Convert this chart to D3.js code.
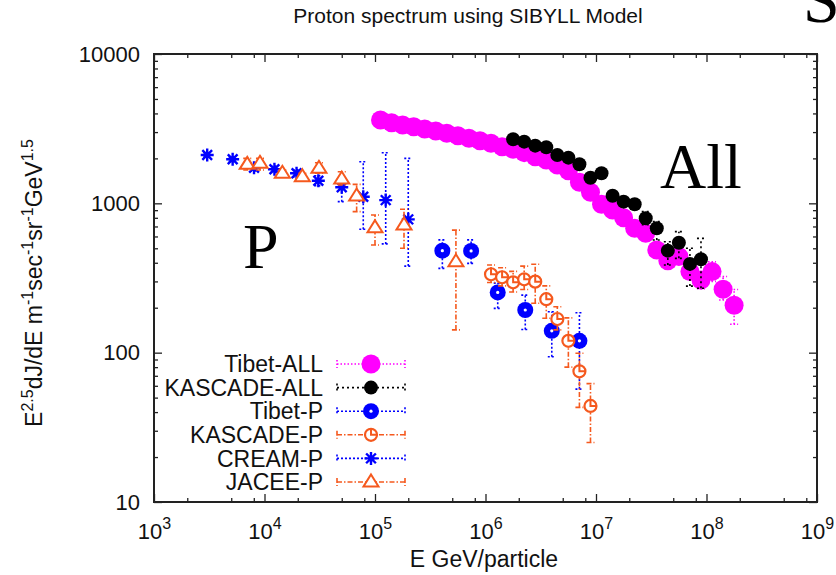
<!DOCTYPE html>
<html>
<head>
<meta charset="utf-8">
<script src="https://cdn.jsdelivr.net/npm/d3@7"></script>
<style>
  body { margin: 0; background: #fff; }
  svg { display: block; }
</style>
</head>
<body>
<div id="chart"></div>
<script>
// values (E in GeV, flux in E^2.5 dJ/dE units)
const tibetAllE = [1.122e5, 1.413e5, 1.778e5, 2.239e5, 2.818e5, 3.548e5, 4.467e5, 5.623e5, 7.079e5, 8.913e5,
    1.122e6, 1.413e6, 1.778e6, 2.239e6, 2.818e6, 3.548e6, 4.467e6, 5.623e6, 7.079e6, 8.913e6,
    1.122e7, 1.413e7, 1.778e7, 2.239e7, 2.818e7, 3.548e7, 4.467e7, 5.623e7, 7.079e7, 8.913e7,
    1.122e8, 1.413e8, 1.778e8]
const tibetAllF = [3614, 3467, 3350, 3261, 3147, 3050, 2943, 2839, 2728, 2628,
    2525, 2396, 2301, 2185, 2053, 1951, 1807, 1655, 1384, 1186,
    985, 902, 801, 680, 630, 487, 413, 440, 349, 307,
    349, 266, 208]
const tibetAllLo = [3500, 3360, 3250, 3160, 3050, 2960, 2850, 2750, 2650, 2550,
    2450, 2320, 2230, 2120, 1990, 1890, 1750, 1600, 1340, 1150,
    950, 870, 770, 650, 600, 450, 380, 400, 315, 268,
    300, 225, 155]
const tibetAllHi = [3730, 3580, 3450, 3360, 3240, 3140, 3030, 2920, 2810, 2710,
    2600, 2470, 2370, 2250, 2120, 2010, 1860, 1710, 1430, 1220,
    1020, 935, 830, 710, 660, 525, 445, 480, 385, 345,
    406, 324, 265]

const kascadeAllE = [1.778e6, 2.239e6, 2.818e6, 3.548e6, 4.467e6, 5.623e6, 7.079e6, 8.913e6, 1.122e7,
    1.413e7, 1.778e7, 2.239e7, 2.818e7, 3.548e7, 4.467e7, 5.623e7, 7.079e7, 8.913e7]
const kascadeAllF = [2685, 2588, 2433, 2373, 2107, 2022, 1825, 1485, 1589,
    1125, 1026, 985, 795, 681, 482, 545, 393, 422]
const kascadeAllLo = [2600, 2500, 2350, 2290, 2030, 1950, 1750, 1420, 1520,
    1050, 960, 915, 720, 568, 386, 428, 279, 270]
const kascadeAllHi = [2770, 2680, 2520, 2460, 2190, 2100, 1900, 1550, 1660,
    1200, 1100, 1060, 880, 754, 553, 646, 500, 583]

const tibetPE = [4.07e5, 7.41e5, 1.29e6, 2.29e6, 3.98e6, 7.08e6]
const tibetPF = [482, 480, 253, 193, 140, 120]
const tibetPLo = [367, 396, 198, 143, 94, 57]
const tibetPHi = [569, 569, 292, 243, 188, 185]

const kascadePE = [1.122e6, 1.413e6, 1.778e6, 2.239e6, 2.818e6, 3.548e6, 4.467e6, 5.623e6, 7.079e6, 8.913e6]
const kascadePF = [335, 320, 296, 310, 299, 228, 168, 120, 75, 44]
const kascadePLo = [295, 280, 255, 265, 214, 170, 142, 80, 43, 25]
const kascadePHi = [386, 370, 350, 380, 391, 280, 203, 171, 99, 62]

const creamPE = [3.03e3, 5.15e3, 8.04e3, 1.23e4, 1.95e4, 3.07e4, 5.0e4, 7.83e4, 1.25e5, 2.0e5]
const creamPF = [2109, 1974, 1733, 1691, 1589, 1418, 1281, 1107, 1051, 781]
const creamPLo = [2040, 1910, 1650, 1610, 1500, 1310, 1026, 670, 535, 380]
const creamPHi = [2180, 2040, 1820, 1780, 1680, 1530, 1432, 1900, 2183, 2000]

const jaceePE = [6.98e3, 9.1e3, 1.45e4, 2.2e4, 3.11e4, 5.0e4, 6.82e4, 1.0e5, 1.83e5, 5.4e5]
const jaceePF = [1824, 1853, 1589, 1508, 1716, 1455, 1119, 687, 716, 406]
const jaceePLo = [1671, 1671, 1510, 1430, 1589, 1327, 880, 526, 500, 142]
const jaceePHi = [2000, 2000, 1670, 1590, 1871, 1629, 1340, 836, 912, 662]

const xMajor = [1e3, 1e4, 1e5, 1e6, 1e7, 1e8, 1e9]
const yMajor = [10, 100, 1000, 10000]
const yTickLabels = ['10', '100', '1000', '10000']

const series = [
    { name: 'Tibet-ALL', E: tibetAllE, F: tibetAllF, lo: tibetAllLo, hi: tibetAllHi,
      color: '#ff00ff', dash: '1.5,2', marker: 'bigdot' },
    { name: 'KASCADE-ALL', E: kascadeAllE, F: kascadeAllF, lo: kascadeAllLo, hi: kascadeAllHi,
      color: '#000000', dash: '2,3', marker: 'dot' },
    { name: 'Tibet-P', E: tibetPE, F: tibetPF, lo: tibetPLo, hi: tibetPHi,
      color: '#0000ff', dash: '2,2', marker: 'ring' },
    { name: 'KASCADE-P', E: kascadePE, F: kascadePF, lo: kascadePLo, hi: kascadePHi,
      color: '#f5591e', dash: '5,2,1.5,2', marker: 'opencircle' },
    { name: 'CREAM-P', E: creamPE, F: creamPF, lo: creamPLo, hi: creamPHi,
      color: '#0000ff', dash: '2,2', marker: 'star' },
    { name: 'JACEE-P', E: jaceePE, F: jaceePF, lo: jaceePLo, hi: jaceePHi,
      color: '#f5591e', dash: '5,2,1.5,2', marker: 'triangle' }
]

const W = 836, H = 575
const pLeft = 154, pRight = 817, pTop = 54, pBottom = 502
const font = 'Liberation Sans, Arial, Helvetica, sans-serif'

const svg = d3.select('#chart').append('svg')
    .attr('width', W).attr('height', H)
    .attr('font-family', font)

const x = d3.scaleLog().domain([1e3, 1e9]).range([pLeft, pRight])
const y = d3.scaleLog().domain([10, 1e4]).range([pBottom, pTop])

// minor ticks
const xMinor = [], yMinor = []
xMajor.slice(0, -1).forEach(d => [2, 5, 8].forEach(m => xMinor.push(d * m)))
yMajor.slice(0, -1).forEach(d => [2, 3, 4, 5, 6, 7, 8, 9].forEach(m => yMinor.push(d * m)))

function tickAxis(axisFn, scale, pos, vals, len) {
    const g = svg.append('g').attr('transform', pos)
        .call(axisFn(scale).tickValues(vals).tickSizeInner(-len).tickSizeOuter(0).tickFormat(''))
    g.select('.domain').remove()
    g.selectAll('.tick line').attr('stroke', '#222').attr('stroke-width', 1.3)
    return g
}
tickAxis(d3.axisBottom, x, `translate(0,${pBottom})`, xMinor, 4)
tickAxis(d3.axisTop, x, `translate(0,${pTop})`, xMinor, 4)
tickAxis(d3.axisTop, x, `translate(0,${pTop})`, xMajor, 8)
tickAxis(d3.axisLeft, y, `translate(${pLeft},0)`, yMinor, 4)
tickAxis(d3.axisRight, y, `translate(${pRight},0)`, yMinor, 4)
tickAxis(d3.axisRight, y, `translate(${pRight},0)`, yMajor, 8)

// bottom axis with 10^n labels
const gx = svg.append('g').attr('transform', `translate(0,${pBottom})`)
    .call(d3.axisBottom(x).tickValues(xMajor).tickSizeInner(-8).tickSizeOuter(0).tickPadding(21))
gx.select('.domain').remove()
gx.selectAll('.tick line').attr('stroke', '#222').attr('stroke-width', 1.3)
gx.selectAll('.tick text').each(function (d) {
    const t = d3.select(this)
    t.text(null).attr('font-size', 22).attr('fill', '#111').attr('font-family', font)
    t.append('tspan').text('10')
    t.append('tspan').attr('dy', -10).attr('font-size', 16).text(Math.round(Math.log10(d)))
})

// left axis
const gy = svg.append('g').attr('transform', `translate(${pLeft},0)`)
    .call(d3.axisLeft(y).tickValues(yMajor).tickSizeInner(-8).tickSizeOuter(0).tickPadding(14)
        .tickFormat((d, i) => yTickLabels[i]))
gy.select('.domain').remove()
gy.selectAll('.tick line').attr('stroke', '#222').attr('stroke-width', 1.3)
gy.selectAll('.tick text').attr('font-size', 22).attr('fill', '#111').attr('font-family', font)

// frame
svg.append('rect')
    .attr('x', pLeft).attr('y', pTop)
    .attr('width', pRight - pLeft).attr('height', pBottom - pTop)
    .attr('fill', 'none').attr('stroke', '#222').attr('stroke-width', 2)

// markers
function drawMarker(g, type, color, cx, cy) {
    if (type === 'bigdot') {
        g.append('circle').attr('cx', cx).attr('cy', cy).attr('r', 9.5).attr('fill', color)
    } else if (type === 'dot') {
        g.append('circle').attr('cx', cx).attr('cy', cy).attr('r', 7).attr('fill', color)
    } else if (type === 'ring') {
        g.append('circle').attr('cx', cx).attr('cy', cy).attr('r', 8).attr('fill', color)
        g.append('circle').attr('cx', cx).attr('cy', cy).attr('r', 1.6).attr('fill', '#fff')
    } else if (type === 'opencircle') {
        g.append('circle').attr('cx', cx).attr('cy', cy).attr('r', 6)
            .attr('fill', '#fff').attr('stroke', color).attr('stroke-width', 2.2)
        g.append('path').attr('d', `M${cx},${cy - 6}L${cx},${cy}L${cx + 6},${cy}`)
            .attr('fill', 'none').attr('stroke', color).attr('stroke-width', 2)
    } else if (type === 'star') {
        const s = 6.5
        g.append('path')
            .attr('d', `M${cx - s},${cy}L${cx + s},${cy}M${cx},${cy - s}L${cx},${cy + s}` +
                `M${cx - s * 0.75},${cy - s * 0.75}L${cx + s * 0.75},${cy + s * 0.75}` +
                `M${cx - s * 0.75},${cy + s * 0.75}L${cx + s * 0.75},${cy - s * 0.75}`)
            .attr('stroke', color).attr('stroke-width', 2.4)
    } else if (type === 'triangle') {
        const s = 7.5
        g.append('path')
            .attr('d', `M${cx},${cy - s}L${cx + s},${cy + s * 0.6}L${cx - s},${cy + s * 0.6}Z`)
            .attr('fill', '#fff').attr('stroke', color).attr('stroke-width', 2)
    }
}

// data: error bars then points
series.forEach(s => {
    const g = svg.append('g').attr('class', 'series')
    s.E.forEach((e, i) => {
        const cx = x(e), y1 = y(s.lo[i]), y2 = y(s.hi[i])
        g.append('path')
            .attr('d', `M${cx},${y1}L${cx},${y2}M${cx - 4},${y1}L${cx + 4},${y1}M${cx - 4},${y2}L${cx + 4},${y2}`)
            .attr('fill', 'none').attr('stroke', s.color).attr('stroke-width', 1.6)
            .attr('stroke-dasharray', s.dash)
    })
    s.E.forEach((e, i) => drawMarker(g, s.marker, s.color, x(e), y(s.F[i])))
})

// legend
const legend = svg.append('g')
series.forEach((s, i) => {
    const ly = 364 + i * 23.6
    legend.append('text').attr('x', 323).attr('y', ly).attr('dy', '0.36em')
        .attr('text-anchor', 'end').attr('font-size', 23).attr('fill', '#111').text(s.name)
    legend.append('path')
        .attr('d', `M337,${ly}L405,${ly}M337,${ly - 4}L337,${ly + 4}M405,${ly - 4}L405,${ly + 4}`)
        .attr('stroke', s.color).attr('stroke-width', 1.6).attr('stroke-dasharray', s.dash)
        .attr('fill', 'none')
    drawMarker(legend, s.marker, s.color, 371, ly)
})

// title and axis labels
svg.append('text').attr('x', 468).attr('y', 23).attr('text-anchor', 'middle')
    .attr('font-size', 21).attr('fill', '#111').text('Proton spectrum using SIBYLL Model')

svg.append('text').attr('x', 484).attr('y', 567).attr('text-anchor', 'middle')
    .attr('font-size', 23).attr('fill', '#111').text('E GeV/particle')

const yl = svg.append('text').attr('transform', 'translate(42,283) rotate(-90)')
    .attr('text-anchor', 'middle').attr('font-size', 23).attr('fill', '#111')
const ylParts = [['E', 0], ['2.5', 1], ['dJ/dE m', 0], ['-1', 1], ['sec', 0], ['-1', 1], ['sr', 0], ['-1', 1], ['GeV', 0], ['1.5', 1]]
let sup = false
ylParts.forEach(([t, s]) => {
    const ts = yl.append('tspan').text(t)
    if (s && !sup) { ts.attr('dy', -9).attr('font-size', 16); sup = true }
    else if (s) { ts.attr('font-size', 16) }
    else if (!s && sup) { ts.attr('dy', 9); sup = false }
})

// big annotations
svg.append('text').attr('x', 660).attr('y', 188).attr('font-family', 'Liberation Serif, Times New Roman, serif')
    .attr('font-size', 64).attr('fill', '#000').text('All')
svg.append('text').attr('x', 243).attr('y', 268).attr('font-family', 'Liberation Serif, Times New Roman, serif')
    .attr('font-size', 64).attr('fill', '#000').text('P')
svg.append('text').attr('x', 803).attr('y', 22).attr('font-family', 'Liberation Serif, Times New Roman, serif')
    .attr('font-size', 66).attr('fill', '#000').text('S')
</script>
</body>
</html>
